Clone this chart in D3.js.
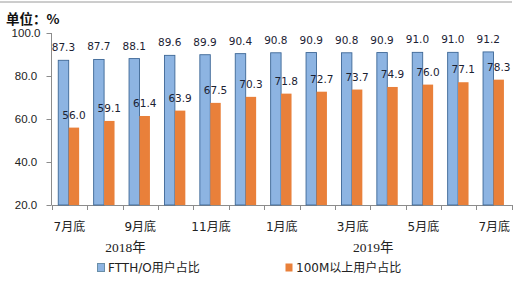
<!DOCTYPE html>
<html lang="zh">
<head>
<meta charset="UTF-8">
<title>FTTH/O与100M以上用户占比</title>
<style>
    html,body{ margin:0; padding:0; background:#fff; }
    svg text{ font-family:"DejaVu Sans","Noto Sans CJK SC",sans-serif; }
</style>
</head>
<body>
<div id="chart"></div>
<script src="https://d3js.org/d3.v7.min.js"></script>
<script>
    // data
    const months = ['7月底','8月底','9月底','10月底','11月底','12月底','1月底','2月底','3月底','4月底','5月底','6月底','7月底']
    const ftth = [87.3,87.7,88.1,89.6,89.9,90.4,90.8,90.9,90.8,90.9,91.0,91.0,91.2]
    const m100 = [56.0,59.1,61.4,63.9,67.5,70.3,71.8,72.7,73.7,74.9,76.0,77.1,78.3]
    const seriesNames = ['FTTH/O用户占比','100M以上用户占比']
    const years = [{name:'2018年', at:1.5},{name:'2019年', at:8.5}]
    const yTicks = [20,40,60,80,100]

    const [width,height] = [516,284]
    const colors = ['#8db4e2','#e9803a']

    const svg = d3.select('#chart').append('svg')
        .attr('width', width).attr('height', height)

    // thin line at top
    svg.append('line').attr('x1',0).attr('x2',512).attr('y1',2).attr('y2',2)
        .attr('stroke','#9a9a9a').attr('stroke-width',1)

    const x = d3.scaleBand().domain(d3.range(months.length)).range([51.7, 511.9])
    const bw = x.bandwidth()
    const xs = d3.scaleBand().domain([0,1]).range([bw*0.185, bw*0.775])
    const y = d3.scaleLinear().domain([20,100]).range([205,33])

    // y axis
    const yAxis = svg.append('g').attr('transform','translate(51.5,0)')
        .call(d3.axisLeft(y).tickValues(yTicks).tickSize(5).tickFormat(d3.format('.1f')))
    yAxis.select('.domain').attr('stroke','#8c8c8c').attr('d','M0,'+y(100)+'V'+y(20))
    yAxis.selectAll('.tick line').attr('stroke','#8c8c8c')
    yAxis.selectAll('.tick text').attr('x',-25.5).attr('text-anchor','middle')
        .attr('font-size',11.5).attr('fill','#222')
        .style('font-family','"Liberation Sans",sans-serif')

    // x axis line with boundary ticks
    const gx = svg.append('g')
    gx.append('line').attr('x1',x.range()[0]).attr('x2',x.range()[1])
        .attr('y1',y(20)+0.5).attr('y2',y(20)+0.5).attr('stroke','#8c8c8c')
    gx.selectAll('.bt').data(d3.range(months.length+1)).join('line')
        .attr('x1',d=>Math.round(x.range()[0]+d*bw)+0.5).attr('x2',d=>Math.round(x.range()[0]+d*bw)+0.5)
        .attr('y1',y(20)).attr('y2',y(20)+5).attr('stroke','#8c8c8c')

    // bars
    const groups = svg.selectAll('.grp').data(months).join('g')
        .attr('transform',(d,i)=>`translate(${x(i)},0)`)
    groups.append('rect')
        .attr('x',xs(0)).attr('width',xs.bandwidth())
        .attr('y',(d,i)=>y(ftth[i])).attr('height',(d,i)=>y(20)-y(ftth[i]))
        .attr('fill',colors[0]).attr('stroke','#3d6796').attr('stroke-width',0.9)
    groups.append('rect')
        .attr('x',xs(1)).attr('width',xs.bandwidth())
        .attr('y',(d,i)=>y(m100[i])).attr('height',(d,i)=>y(20)-y(m100[i]))
        .attr('fill',colors[1])

    // value labels
    groups.append('text')
        .attr('x',xs(0)+xs.bandwidth()/2).attr('y',(d,i)=>y(ftth[i])-9)
        .attr('text-anchor','middle').attr('font-size',10.5).attr('fill','#1b2233')
        .text((d,i)=>ftth[i].toFixed(1))
    groups.append('text')
        .attr('x',xs(1)+xs.bandwidth()/2).attr('y',(d,i)=>y(m100[i])-9)
        .attr('text-anchor','middle').attr('font-size',10.5).attr('fill','#1b2233')
        .text((d,i)=>m100[i].toFixed(1))

    // month labels (every other)
    svg.selectAll('.ml').data(months.filter((d,i)=>i%2===0)).join('text')
        .attr('x',(d,i)=>x(i*2)+bw/2).attr('y',231)
        .attr('text-anchor','middle').attr('font-size',12).attr('fill','#222')
        .text(d=>d)

    // year labels
    svg.selectAll('.yl').data(years).join('text')
        .attr('x',d=>x.range()[0]+(d.at+0.5)*bw+3).attr('y',252)
        .attr('text-anchor','middle').attr('font-size',13.5).attr('fill','#222')
        .style('font-family','"Liberation Serif","Noto Sans CJK SC",serif')
        .text(d=>d.name)

    // title
    svg.append('text').attr('x',6).attr('y',24)
        .attr('font-size',13.5).attr('font-weight','bold').attr('fill','#111')
        .style('font-family','"Noto Sans CJK SC",sans-serif')
        .text('单位：%')

    // legend
    const legX = [97, 285]
    const leg = svg.selectAll('.lg').data(seriesNames).join('g')
        .attr('transform',(d,i)=>`translate(${legX[i]},263)`)
    leg.append('rect').attr('x',0.5).attr('y',0.5).attr('width',7).attr('height',8)
        .attr('fill',(d,i)=>colors[i]).attr('stroke',(d,i)=>i===0?'#6a8fa8':'none')
    leg.append('text').attr('x',11).attr('y',8.5)
        .attr('font-size',12).attr('fill','#222').text(d=>d)
</script>
</body>
</html>
